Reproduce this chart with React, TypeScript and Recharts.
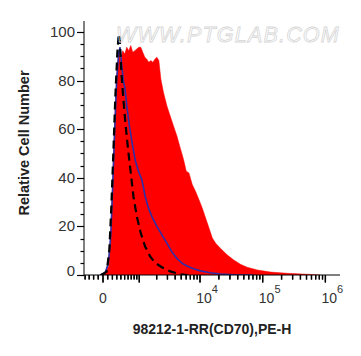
import React from 'react';
import { ComposedChart, Area, Line, XAxis, YAxis, ReferenceLine } from 'recharts';

// x positions are in display (biexponential) decade units: 0 -> value 0, 1.55 -> 10^4, 2.55 -> 10^5, 3.55 -> 10^6
const redX = [0.005, 0.085, 0.123, 0.155, 0.187, 0.219, 0.251, 0.283, 0.315, 0.347, 0.379, 0.411, 0.443, 0.475, 0.507, 0.539, 0.571, 0.603, 0.635, 0.667, 0.699, 0.731, 0.763, 0.795, 0.827, 0.859, 0.891, 0.923, 0.965, 1.019, 1.072, 1.125, 1.179, 1.232, 1.285, 1.328, 1.371, 1.424, 1.477, 1.531, 1.584, 1.637, 1.691, 1.744, 1.797, 1.872, 1.979, 2.085, 2.192, 2.299, 2.459, 2.672, 2.939, 3.259, 3.472];
const redY = [0, 3.4, 15.8, 39.3, 64, 81.9, 91.6, 88.8, 92.3, 90.9, 93.7, 92.3, 94.4, 91.6, 92.3, 93.0, 93.7, 93.7, 91.6, 89.6, 88.8, 87.5, 88.2, 87.5, 88.8, 89.6, 88.2, 80.6, 75.1, 69.6, 65.4, 61.3, 57.2, 52.3, 47.5, 42.7, 42.0, 37.2, 34.4, 31.0, 27.5, 23.4, 19.3, 15.2, 13.1, 11.0, 8.3, 6.2, 4.4, 3.2, 2.1, 1.2, 0.7, 0.3, 0];

const blueX = [-0.048, 0.032, 0.085, 0.123, 0.155, 0.187, 0.219, 0.251, 0.272, 0.299, 0.325, 0.352, 0.379, 0.421, 0.464, 0.512, 0.565, 0.619, 0.672, 0.725, 0.779, 0.859, 0.939, 1.019, 1.099, 1.179, 1.259, 1.339, 1.445, 1.552, 1.712, 1.872, 2.085, 2.405];
const blueY = [0, 0.7, 4.8, 15.8, 36.6, 60, 80.6, 91.6, 93.7, 86.1, 79.9, 76.5, 69.6, 61.3, 54.4, 47.5, 42.7, 39.3, 32.4, 27.5, 24.1, 20.0, 16.5, 13.1, 9.5, 6.8, 4.9, 3.7, 2.6, 1.7, 0.9, 0.4, 0.1, 0];

const dashX = [-0.032, 0.059, 0.101, 0.133, 0.165, 0.197, 0.229, 0.251, 0.267, 0.293, 0.325, 0.357, 0.4, 0.443, 0.485, 0.539, 0.603, 0.672, 0.752, 0.832, 0.939, 1.072, 1.232, 1.35];
const dashY = [0, 1.4, 10.3, 28.1, 50.2, 73.6, 91.6, 99.2, 97.1, 83.3, 72.3, 62.7, 51.7, 42.0, 32.4, 24.1, 17.2, 11.7, 7.6, 5.0, 3.2, 1.5, 0.3, 0];

const yTickValues = [0, 5, 10, 15, 20, 25, 30, 35, 40, 45, 50, 55, 60, 65, 70, 75, 80, 85, 90, 95, 100];
const yMajorLabels = ['0', '20', '40', '60', '80', '100'];

const xMajorValues = [0, 1000, 10000, 100000, 1000000];
const xLabelValues = [0, 10000, 100000, 1000000];
const xLabelExponents = ['', '4', '5', '6'];
const xMinorValues = [
  -400, -300, -200, -100,
  100, 200, 300, 400, 500, 600, 700, 800, 900,
  2000, 3000, 4000, 5000, 6000, 7000, 8000, 9000,
  20000, 30000, 40000, 50000, 60000, 70000, 80000, 90000,
  200000, 300000, 400000, 500000, 600000, 700000, 800000, 900000,
];

const BIEX_C = 283.8;
const toDisplay = (v: number) => Math.asinh(v / (2 * BIEX_C)) / Math.LN10;

const zip = (xs: number[], ys: number[]) => xs.map((x, i) => ({ x, y: ys[i] }));
const redData = zip(redX, redY);
const blueData = zip(blueX, blueY);
const dashData = zip(dashX, dashY);

type XT = { v: number; d: number; major: boolean; label: number };
const xTickList: XT[] = [
  ...xMajorValues.map((v) => ({ v, d: toDisplay(v), major: true, label: xLabelValues.indexOf(v) })),
  ...xMinorValues.map((v) => ({ v, d: toDisplay(v), major: false, label: -1 })),
].sort((a, b) => a.v - b.v);
const xTicks = xTickList.map((t) => t.d);

const FONT = '"Liberation Sans", Arial, Helvetica, sans-serif';

const YTick = (props: any) => {
  const { x, y, payload } = props;
  const v = payload.value as number;
  const major = v % 20 === 0;
  const idx = v / 20;
  const yy = Math.round(y) + 0.5;
  return (
    <g>
      <line x1={x - (major ? 7 : 3.5)} x2={x} y1={yy} y2={yy} stroke="#000" strokeWidth={1.2} />
      {major && (
        <text x={x - 9} y={y + (v === 0 ? 1 : 5)} textAnchor="end" fontSize={15} fill="#333" fontFamily={FONT}>
          {yMajorLabels[idx]}
        </text>
      )}
    </g>
  );
};

const XTick = (props: any) => {
  const { x, y, payload } = props;
  const value = payload ? payload.value : NaN;
  let t = xTickList[0];
  let best = Infinity;
  for (const c of xTickList) {
    const dd = Math.abs(c.d - value);
    if (dd < best) { best = dd; t = c; }
  }
  const len = t.major ? 7.5 : 4.5;
  return (
    <g>
      <line x1={x} x2={x} y1={y} y2={y + len} stroke="#000" strokeWidth={1.3} />
      {t.label === 0 && (
        <text x={x} y={y + 28} textAnchor="middle" fontSize={14} fill="#333" fontFamily={FONT}>0</text>
      )}
      {t.label > 0 && (
        <text x={x + 7} y={y + 28} textAnchor="middle" fontSize={14} fill="#333" fontFamily={FONT}>
          <tspan>10</tspan>
          <tspan dy={-10} fontSize={11}>{xLabelExponents[t.label]}</tspan>
        </text>
      )}
    </g>
  );
};

export default function App() {
  return (
    <div style={{ position: 'fixed', left: 0, top: 0, width: 361, height: 356, background: '#fff' }}>
      <ComposedChart width={361} height={356} margin={{ top: 21, right: 21, left: 24, bottom: 21 }}>
        <Area
          xAxisId="main"
          yAxisId="main"
          data={redData}
          dataKey="y"
          type="linear"
          fill="#ff0000"
          fillOpacity={1}
          stroke="#ff0000"
          strokeWidth={0.5}
          isAnimationActive={false}
        />
        <Line
          xAxisId="main"
          yAxisId="main"
          data={blueData}
          dataKey="y"
          type="linear"
          stroke="#2e2ea8"
          strokeWidth={1.6}
          dot={false}
          isAnimationActive={false}
        />
        <Line
          xAxisId="main"
          yAxisId="main"
          data={dashData}
          dataKey="y"
          type="linear"
          stroke="#000"
          strokeWidth={2.2}
          strokeDasharray="8 5"
          dot={false}
          isAnimationActive={false}
        />
        {xTickList.map((t, i) => (
          <ReferenceLine
            key={'xt' + i}
            xAxisId="main"
            yAxisId="main"
            segment={[{ x: t.d, y: 0 }, { x: t.d, y: t.major ? -3.1 : -1.9 }]}
            stroke="#000"
            strokeWidth={1.3}
            ifOverflow="visible"
          />
        ))}
        <XAxis
          xAxisId="main"
          dataKey="x"
          type="number"
          domain={[-0.303, 3.78]}
          allowDataOverflow
          ticks={xTicks}
          interval={0}
          minTickGap={0}
          tickSize={0}
          tickMargin={0}
          height={60}
          axisLine={{ stroke: '#000', strokeWidth: 1 }}
          tickLine={false}
          tick={<XTick />}
          label={{
            content: () => (
              <text x={212} y={334} textAnchor="middle" fontSize={14} fontWeight="bold" fill="#222" fontFamily={FONT}>
                98212-1-RR(CD70),PE-H
              </text>
            ),
          }}
        />
        <XAxis xAxisId="top" orientation="top" type="number" domain={[0, 1]} height={0} tick={false} tickLine={false} axisLine={{ stroke: '#000', strokeWidth: 1 }} />
        <YAxis
          yAxisId="main"
          type="number"
          domain={[0, 104.5]}
          allowDataOverflow
          ticks={yTickValues}
          interval={0}
          tickSize={0}
          tickMargin={0}
          width={60}
          axisLine={{ stroke: '#000', strokeWidth: 1 }}
          tickLine={false}
          tick={<YTick />}
          label={{
            content: () => (
              <text x={29} y={143} transform="rotate(-90 29 143)" textAnchor="middle" fontSize={14.5} fontWeight="bold" fill="#222" fontFamily={FONT}>
                Relative Cell Number
              </text>
            ),
          }}
        />
        <YAxis yAxisId="right" orientation="right" type="number" domain={[0, 1]} width={0} tick={false} tickLine={false} axisLine={{ stroke: '#000', strokeWidth: 1 }} />
      </ComposedChart>
      <svg width={361} height={356} style={{ position: 'absolute', left: 0, top: 0, pointerEvents: 'none' }}>
        <text x={228} y={42} textAnchor="middle" fontSize={21.5} fontStyle="italic" letterSpacing={1.2} fill="none" stroke="#d6d6d6" strokeWidth={0.8} fontFamily={FONT}>
          WWW.PTGLAB.COM
        </text>
      </svg>
    </div>
  );
}
